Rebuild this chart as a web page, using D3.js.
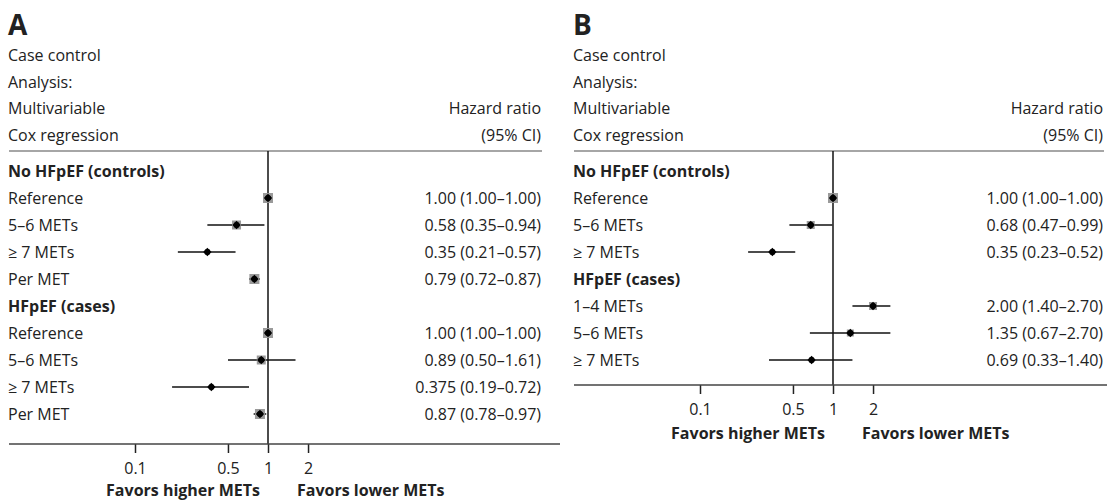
<!DOCTYPE html>
<html>
<head>
<meta charset="utf-8">
<script src="https://cdn.jsdelivr.net/npm/d3@7"></script>
<style>
  body { margin: 0; background: #fff; }
  svg text { font-family: "Open Sans", sans-serif; font-size: 16px; fill: #222; }
</style>
</head>
<body>
<svg id="chart" width="1107" height="501"></svg>
<script>
// panel A data
const labelsA = ["No HFpEF (controls)", "Reference", "5–6 METs", "≥ 7 METs", "Per MET",
                 "HFpEF (cases)", "Reference", "5–6 METs", "≥ 7 METs", "Per MET"];
const hrA   = [null, 1.00, 0.58, 0.35, 0.79, null, 1.00, 0.89, 0.375, 0.87];
const lowA  = [null, 1.00, 0.35, 0.21, 0.72, null, 1.00, 0.50, 0.19, 0.78];
const highA = [null, 1.00, 0.94, 0.57, 0.87, null, 1.00, 1.61, 0.72, 0.97];
const textA = ["", "1.00 (1.00–1.00)", "0.58 (0.35–0.94)", "0.35 (0.21–0.57)", "0.79 (0.72–0.87)",
               "", "1.00 (1.00–1.00)", "0.89 (0.50–1.61)", "0.375 (0.19–0.72)", "0.87 (0.78–0.97)"];
const weightA = [0, 10, 9, 5, 10, 0, 10, 9, 4, 10];

// panel B data
const labelsB = ["No HFpEF (controls)", "Reference", "5–6 METs", "≥ 7 METs",
                 "HFpEF (cases)", "1–4 METs", "5–6 METs", "≥ 7 METs"];
const hrB   = [null, 1.00, 0.68, 0.35, null, 2.00, 1.35, 0.69];
const lowB  = [null, 1.00, 0.47, 0.23, null, 1.40, 0.67, 0.33];
const highB = [null, 1.00, 0.99, 0.52, null, 2.70, 2.70, 1.40];
const textB = ["", "1.00 (1.00–1.00)", "0.68 (0.47–0.99)", "0.35 (0.23–0.52)",
               "", "2.00 (1.40–2.70)", "1.35 (0.67–2.70)", "0.69 (0.33–1.40)"];
const weightB = [0, 10, 8, 5, 0, 8, 7, 5];

const headerLines = ["Case control", "Analysis:", "Multivariable", "Cox regression"];
const tickValues = [0.1, 0.5, 1, 2];

const svg = d3.select("#chart");

function drawPanel(opt) {
  const g = svg.append("g");
  const rows = opt.labels.map((l, i) => ({
    label: l, hr: opt.hr[i], lo: opt.low[i], hi: opt.high[i], txt: opt.text[i], w: opt.weight[i]
  }));

  const x = d3.scaleLog().domain([0.1, 1]).range([opt.x1 - 133, opt.x1]);
  const y = d3.scaleLinear().domain([0, 1]).range([171, 198]);
  const lineY = 151;
  const axisY = y(rows.length - 1) + opt.axisGap;

  // title
  g.append("text").attr("x", opt.left).attr("y", 35)
    .style("font-size", "28px").style("font-weight", "bold").text(opt.title);

  g.selectAll(".hdr").data(headerLines).enter().append("text")
    .attr("x", opt.left).attr("y", (d, i) => 61 + i * 26.7).text(d => d);

  g.append("text").attr("x", opt.right).attr("y", 114).attr("text-anchor", "end").text("Hazard ratio");
  g.append("text").attr("x", opt.right).attr("y", 141).attr("text-anchor", "end").text("(95% CI)");

  g.append("line").attr("x1", opt.left + 1).attr("x2", opt.right + 1)
    .attr("y1", lineY).attr("y2", lineY).attr("stroke", "#888").attr("stroke-width", 1.5);

  // reference line at HR = 1
  g.append("line").attr("x1", x(1)).attr("x2", x(1)).attr("y1", lineY).attr("y2", axisY)
    .attr("stroke", "#111").attr("stroke-width", 1.5);

  // row labels
  g.selectAll(".lab").data(rows).enter().append("text")
    .attr("x", opt.left).attr("y", (d, i) => y(i) + 6)
    .style("font-weight", d => d.hr == null ? "bold" : "normal")
    .text(d => d.label);

  g.selectAll(".val").data(rows).enter().append("text")
    .attr("x", opt.right).attr("y", (d, i) => y(i) + 6).attr("text-anchor", "end")
    .text(d => d.txt);

  const pts = rows.map((d, i) => Object.assign({ i: i }, d)).filter(d => d.hr != null);

  g.selectAll(".ci").data(pts).enter().append("line")
    .attr("x1", d => x(d.lo)).attr("x2", d => x(d.hi))
    .attr("y1", d => y(d.i)).attr("y2", d => y(d.i))
    .attr("stroke", "#111").attr("stroke-width", 1.5);

  g.selectAll(".box").data(pts).enter().append("rect")
    .attr("x", d => x(d.hr) - d.w / 2).attr("y", d => y(d.i) - d.w / 2)
    .attr("width", d => d.w).attr("height", d => d.w)
    .attr("fill", "#9a9a9a");

  g.selectAll(".pt").data(pts).enter().append("path")
    .attr("transform", d => `translate(${x(d.hr)},${y(d.i)})`)
    .attr("d", d3.symbol(d3.symbolDiamond2, 44))
    .attr("fill", "#000");
  g.selectAll(".ptc").data(pts).enter().append("circle")
    .attr("cx", d => x(d.hr)).attr("cy", d => y(d.i)).attr("r", 3)
    .attr("fill", "#000");

  // axis
  const ax = g.append("g").attr("transform", `translate(0,${axisY})`)
    .call(d3.axisBottom(x).tickValues(tickValues).tickFormat(d3.format("")).tickSizeInner(9).tickSizeOuter(0).tickPadding(10));
  ax.select(".domain").remove();
  ax.selectAll(".tick line").attr("stroke", "#222").attr("stroke-width", 1.5);
  ax.selectAll(".tick text").style("font-size", "16px").attr("fill", "#222");
  ax.append("line").attr("x1", opt.left + 1).attr("x2", opt.axisEnd)
    .attr("stroke", "#444").attr("stroke-width", 1.5);

  g.append("text").attr("x", x(1) - 8).attr("y", Math.min(axisY + 54, 496)).attr("text-anchor", "end")
    .style("font-weight", "bold").text("Favors higher METs");
  g.append("text").attr("x", x(1) + 29).attr("y", Math.min(axisY + 54, 496))
    .style("font-weight", "bold").text("Favors lower METs");
}

drawPanel({ title: "A", left: 8, right: 541, x1: 268, axisGap: 30, axisEnd: 560,
  labels: labelsA, hr: hrA, low: lowA, high: highA, text: textA, weight: weightA });
drawPanel({ title: "B", left: 573, right: 1103, x1: 833, axisGap: 25, axisEnd: 1107,
  labels: labelsB, hr: hrB, low: lowB, high: highB, text: textB, weight: weightB });
</script>
</body>
</html>
